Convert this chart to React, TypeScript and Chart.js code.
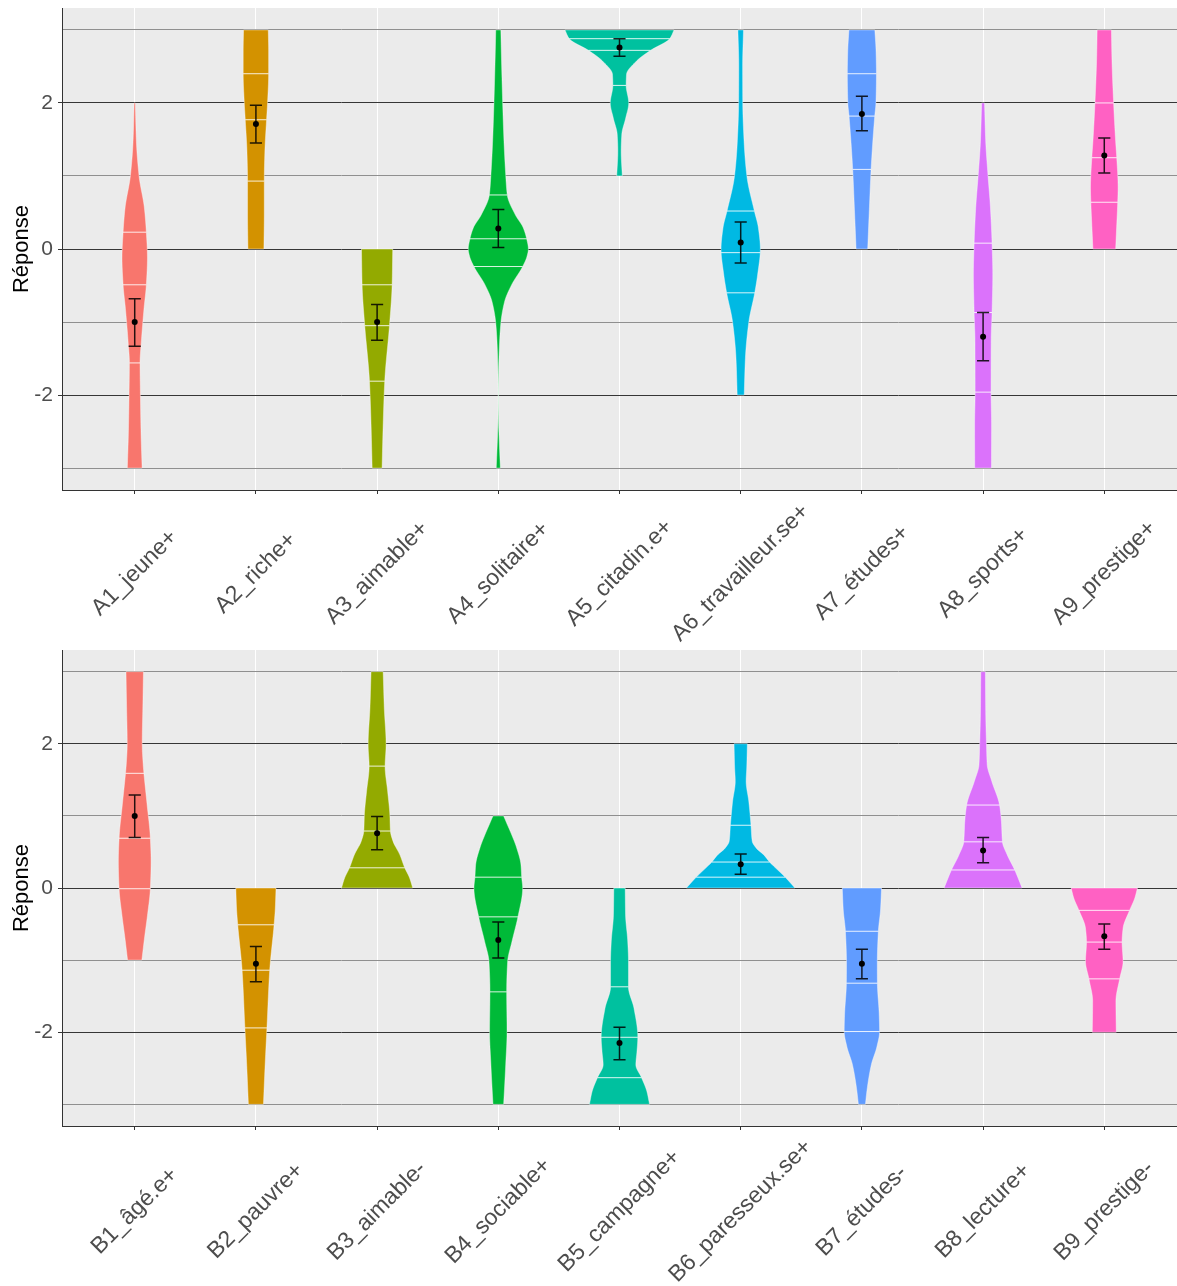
import React, { useEffect, useRef } from 'react';
import { Chart, registerables } from 'chart.js';

Chart.register(...registerables);

const FONT = "'Liberation Sans', Arial, Helvetica, sans-serif";

// ---------- categories ----------
const categoriesA = ['A1_jeune+', 'A2_riche+', 'A3_aimable+', 'A4_solitaire+', 'A5_citadin.e+', 'A6_travailleur.se+', 'A7_études+', 'A8_sports+', 'A9_prestige+'];
const categoriesB = ['B1_âgé.e+', 'B2_pauvre+', 'B3_aimable-', 'B4_sociable+', 'B5_campagne+', 'B6_paresseux.se+', 'B7_études-', 'B8_lecture+', 'B9_prestige-'];
const palette = ['#F8766D', '#D39200', '#93AA00', '#00BA38', '#00C19F', '#00B9E3', '#619CFF', '#DB72FB', '#FF61C3'];

const yTickValues = [-3, -2, -1, 0, 1, 2, 3];

// ---------- violin profiles: [response, half width (category units)] ----------
const violinA1 = [[-3, 0.061], [-2.5, 0.052], [-2, 0.047], [-1.56, 0.044], [-1.26, 0.055], [-0.81, 0.077], [-0.49, 0.096], [-0.12, 0.105], [0.23, 0.096], [0.56, 0.08], [1.0, 0.036], [1.47, 0.014], [2.0, 0.005]];
const violinA2 = [[0, 0.066], [0.47, 0.069], [0.93, 0.069], [1.34, 0.074], [1.77, 0.088], [2.0, 0.096], [2.4, 0.105], [2.71, 0.105], [3, 0.102]];
const violinA3 = [[-3, 0.041], [-2.4, 0.05], [-1.81, 0.063], [-1.05, 0.102], [-0.49, 0.124], [0, 0.129]];
const violinA4 = [[-3, 0.017], [-2.63, 0.008], [-2.36, 0.003], [-2, 0.001], [-1.68, 0.003], [-1.26, 0.011], [-1, 0.022], [-0.72, 0.052], [-0.49, 0.11], [-0.24, 0.201], [-0.1, 0.237], [0, 0.248], [0.14, 0.234], [0.29, 0.206], [0.47, 0.14], [0.74, 0.074], [1.02, 0.061], [1.47, 0.047], [2, 0.036], [2.62, 0.026], [3, 0.021]];
const violinA5 = [[1, 0.023], [1.34, 0.014], [1.57, 0.019], [1.79, 0.051], [2, 0.076], [2.24, 0.055], [2.39, 0.058], [2.57, 0.138], [2.72, 0.256], [2.88, 0.415], [3, 0.45]];
const violinA6 = [[-2, 0.029], [-1.49, 0.039], [-1, 0.067], [-0.6, 0.116], [-0.35, 0.14], [0, 0.162], [0.29, 0.146], [0.52, 0.113], [1, 0.051], [1.47, 0.028], [2, 0.017], [2.5, 0.016], [3, 0.023]];
const violinA7 = [[0, 0.048], [0.56, 0.062], [1.09, 0.076], [1.82, 0.106], [2, 0.116], [2.4, 0.12], [2.7, 0.117], [3, 0.107]];
const violinA8 = [[-3, 0.069], [-2.4, 0.07], [-1.96, 0.066], [-1.26, 0.067], [-0.87, 0.074], [-0.35, 0.08], [0.08, 0.074], [0.56, 0.061], [1, 0.041], [1.47, 0.022], [2, 0.012]];
const violinA9 = [[0, 0.094], [0.33, 0.103], [0.64, 0.111], [0.84, 0.114], [1.25, 0.103], [1.47, 0.094], [2, 0.077], [2.62, 0.063], [3, 0.059]];

const violinB1 = [[-1, 0.059], [-0.69, 0.081], [-0.37, 0.106], [-0.01, 0.129], [0.37, 0.135], [0.69, 0.129], [1.16, 0.102], [1.59, 0.076], [1.71, 0.07], [2, 0.062], [2.5, 0.067], [3, 0.072]];
const violinB2 = [[-3, 0.062], [-2.45, 0.076], [-1.94, 0.091], [-1.14, 0.114], [-0.51, 0.15], [-0.28, 0.16], [0, 0.166]];
const violinB3 = [[0, 0.294], [0.14, 0.268], [0.28, 0.228], [0.46, 0.188], [0.65, 0.131], [0.79, 0.11], [1.02, 0.105], [1.34, 0.087], [1.69, 0.066], [1.99, 0.074], [2.5, 0.059], [3, 0.05]];
const violinB4 = [[-3, 0.044], [-2.45, 0.061], [-1.99, 0.072], [-1.44, 0.069], [-1.02, 0.077], [-0.74, 0.113], [-0.4, 0.162], [0, 0.201], [0.15, 0.193], [0.32, 0.187], [0.56, 0.151], [0.74, 0.11], [0.9, 0.069], [1, 0.044]];
const violinB5 = [[-3, 0.248], [-2.82, 0.226], [-2.63, 0.182], [-2.45, 0.135], [-2.27, 0.144], [-2.07, 0.151], [-1.67, 0.12], [-1.37, 0.074], [-1.02, 0.074], [-0.74, 0.068], [-0.37, 0.05], [0, 0.047]];
const violinB6 = [[0, 0.448], [0.15, 0.367], [0.36, 0.239], [0.46, 0.19], [0.55, 0.13], [0.65, 0.095], [0.87, 0.085], [1.2, 0.067], [1.48, 0.045], [1.67, 0.05], [2, 0.055]];
const violinB7 = [[-3, 0.029], [-2.78, 0.044], [-2.45, 0.078], [-2.2, 0.124], [-1.99, 0.146], [-1.76, 0.143], [-1.32, 0.128], [-1.06, 0.127], [-0.6, 0.136], [-0.3, 0.154], [0, 0.162]];
const violinB8 = [[0, 0.322], [0.25, 0.261], [0.46, 0.199], [0.64, 0.16], [0.93, 0.151], [1.15, 0.136], [1.48, 0.072], [1.71, 0.034], [2, 0.028], [2.41, 0.022], [3, 0.019]];
const violinB9 = [[-2, 0.099], [-1.57, 0.096], [-1.26, 0.127], [-1.02, 0.155], [-0.75, 0.147], [-0.56, 0.155], [-0.31, 0.209], [-0.14, 0.252], [0, 0.274]];

const violinsA = [violinA1, violinA2, violinA3, violinA4, violinA5, violinA6, violinA7, violinA8, violinA9];
const violinsB = [violinB1, violinB2, violinB3, violinB4, violinB5, violinB6, violinB7, violinB8, violinB9];

// ---------- quartiles (75%, 50%, 25%) ----------
const quantilesA = [[0.23, -0.49, -1.56], [2.4, 1.77, 0.93], [-0.49, -1.05, -1.81], [0.74, 0.14, -0.24], [2.88, 2.72, 2.24], [0.52, -0.05, -0.6], [2.4, 1.82, 1.09], [0.08, -0.87, -1.96], [2.0, 1.25, 0.64]];
const quantilesB = [[1.59, 0.69, -0.01], [-0.51, -1.14, -1.94], [1.69, 0.79, 0.28], [0.15, -0.4, -1.44], [-1.37, -2.07, -2.63], [0.87, 0.36, 0.15], [-0.6, -1.32, -1.99], [1.15, 0.64, 0.25], [-0.31, -0.75, -1.26]];

// ---------- means and error bars ----------
const meansA = [-1.0, 1.71, -1.0, 0.28, 2.76, 0.09, 1.85, -1.2, 1.28];
const lowsA = [-1.33, 1.45, -1.25, 0.02, 2.64, -0.19, 1.62, -1.53, 1.04];
const highsA = [-0.68, 1.97, -0.76, 0.54, 2.88, 0.37, 2.09, -0.87, 1.52];

const meansB = [1.0, -1.05, 0.76, -0.72, -2.15, 0.33, -1.05, 0.52, -0.67];
const lowsB = [0.70, -1.30, 0.53, -0.97, -2.38, 0.19, -1.26, 0.35, -0.85];
const highsB = [1.29, -0.81, 0.99, -0.47, -1.93, 0.47, -0.85, 0.70, -0.50];

// monotone cubic interpolation of the half width along the response axis
function makeInterp(pts: number[][]) {
  const n = pts.length;
  const xs = pts.map((p) => p[0]);
  const ys = pts.map((p) => p[1]);
  const d: number[] = [];
  for (let i = 0; i < n - 1; i++) d.push((ys[i + 1] - ys[i]) / (xs[i + 1] - xs[i]));
  const m: number[] = new Array(n).fill(0);
  m[0] = d[0];
  m[n - 1] = d[n - 2];
  for (let i = 1; i < n - 1; i++) {
    if (d[i - 1] * d[i] <= 0) m[i] = 0;
    else {
      const h0 = xs[i] - xs[i - 1];
      const h1 = xs[i + 1] - xs[i];
      const w1 = 2 * h1 + h0;
      const w2 = h1 + 2 * h0;
      m[i] = (w1 + w2) / (w1 / d[i - 1] + w2 / d[i]);
    }
  }
  return (x: number) => {
    if (x <= xs[0]) return ys[0];
    if (x >= xs[n - 1]) return ys[n - 1];
    let i = 0;
    while (x > xs[i + 1]) i++;
    const h = xs[i + 1] - xs[i];
    const t = (x - xs[i]) / h;
    const t2 = t * t;
    const t3 = t2 * t;
    const v = (2 * t3 - 3 * t2 + 1) * ys[i] + (t3 - 2 * t2 + t) * h * m[i] + (-2 * t3 + 3 * t2) * ys[i + 1] + (t3 - t2) * h * m[i + 1];
    return Math.max(v, 0);
  };
}

type PanelProps = {
  categories: string[];
  violins: number[][][];
  quantiles: number[][];
  means: number[];
  lows: number[];
  highs: number[];
  height: number;
  padTop: number;
  axisHeight: number;
  labelOffset: number;
};

function makePlugin(p: PanelProps) {
  return {
    id: 'violinPanel',
    beforeDraw(chart: any) {
      const { ctx, chartArea } = chart;
      ctx.save();
      ctx.fillStyle = '#EBEBEB';
      ctx.fillRect(chartArea.left, chartArea.top, chartArea.right - chartArea.left, chartArea.bottom - chartArea.top);
      ctx.restore();
    },
    beforeDatasetsDraw(chart: any) {
      const { ctx } = chart;
      const xs = chart.scales.x;
      const ys = chart.scales.y;
      ctx.save();
      p.violins.forEach((prof, i) => {
        const c = i + 1;
        const w = makeInterp(prof);
        const vmin = prof[0][0];
        const vmax = prof[prof.length - 1][0];
        const pTop = ys.getPixelForValue(vmax);
        const pBot = ys.getPixelForValue(vmin);
        const N = Math.max(2, Math.ceil(Math.abs(pBot - pTop)));
        const left: number[][] = [];
        const right: number[][] = [];
        for (let k = 0; k <= N; k++) {
          const v = vmin + ((vmax - vmin) * k) / N;
          const py = ys.getPixelForValue(v);
          const hw = w(v);
          left.push([xs.getPixelForValue(c - hw), py]);
          right.push([xs.getPixelForValue(c + hw), py]);
        }
        ctx.beginPath();
        left.forEach((pt, k) => (k === 0 ? ctx.moveTo(pt[0], pt[1]) : ctx.lineTo(pt[0], pt[1])));
        for (let k = right.length - 1; k >= 0; k--) ctx.lineTo(right[k][0], right[k][1]);
        ctx.closePath();
        ctx.fillStyle = palette[i];
        ctx.fill();
        ctx.strokeStyle = 'rgba(255,255,255,0.6)';
        ctx.lineWidth = 0.7;
        ctx.stroke();

        // quartile lines
        ctx.strokeStyle = 'rgba(255,255,255,0.85)';
        ctx.lineWidth = 1;
        p.quantiles[i].forEach((q) => {
          const hw = w(q);
          const py = ys.getPixelForValue(q);
          ctx.beginPath();
          ctx.moveTo(xs.getPixelForValue(c - hw), py);
          ctx.lineTo(xs.getPixelForValue(c + hw), py);
          ctx.stroke();
        });
      });

      // error bars
      ctx.strokeStyle = 'rgba(0,0,0,0.85)';
      ctx.lineWidth = 1.5;
      p.means.forEach((_, i) => {
        const c = i + 1;
        const px = xs.getPixelForValue(c);
        const pl = ys.getPixelForValue(p.lows[i]);
        const ph = ys.getPixelForValue(p.highs[i]);
        const x0 = xs.getPixelForValue(c - 0.05);
        const x1 = xs.getPixelForValue(c + 0.05);
        ctx.beginPath();
        ctx.moveTo(px, pl);
        ctx.lineTo(px, ph);
        ctx.moveTo(x0, pl);
        ctx.lineTo(x1, pl);
        ctx.moveTo(x0, ph);
        ctx.lineTo(x1, ph);
        ctx.stroke();
      });
      ctx.restore();
    },
    afterDraw(chart: any) {
      const { ctx, chartArea } = chart;
      const xs = chart.scales.x;
      ctx.save();
      ctx.fillStyle = '#4D4D4D';
      ctx.font = `23px ${FONT}`;
      ctx.textAlign = 'center';
      ctx.textBaseline = 'middle';
      p.categories.forEach((lab, i) => {
        const px = xs.getPixelForValue(i + 1);
        ctx.save();
        ctx.translate(px, chartArea.bottom + p.labelOffset);
        ctx.rotate(-Math.PI / 4);
        ctx.fillText(lab, 0, 0);
        ctx.restore();
      });
      ctx.restore();
    },
  };
}

function Panel(props: PanelProps) {
  const ref = useRef<HTMLCanvasElement | null>(null);
  useEffect(() => {
    if (!ref.current) return;
    const chart = new Chart(ref.current, {
      type: 'scatter',
      data: {
        datasets: [
          {
            data: props.means.map((m, i) => ({ x: i + 1, y: m })),
            backgroundColor: '#000',
            borderColor: '#000',
            borderWidth: 0,
            pointRadius: 3,
            pointHoverRadius: 3,
          },
        ],
      },
      options: {
        animation: false,
        responsive: false,
        maintainAspectRatio: false,
        devicePixelRatio: 1,
        events: [],
        layout: { autoPadding: false, padding: { top: props.padTop, left: 0, right: 0, bottom: 0 } },
        plugins: { legend: { display: false }, tooltip: { enabled: false } },
        scales: {
          x: {
            type: 'linear',
            min: 0.4,
            max: 9.6,
            afterBuildTicks: (s: any) => {
              s.ticks = props.categories.map((_, i) => ({ value: i + 1 }));
            },
            afterFit: (s: any) => {
              s.height = props.axisHeight;
              s.paddingLeft = 0;
              s.paddingRight = 0;
            },
            ticks: { display: false },
            grid: { color: '#FFFFFF', lineWidth: 1, drawTicks: true, tickLength: 4, tickColor: '#333333', tickWidth: 1 },
            border: { display: true, color: '#333333', width: 1 },
          },
          y: {
            type: 'linear',
            min: -3.3,
            max: 3.3,
            afterBuildTicks: (s: any) => {
              s.ticks = yTickValues.map((v) => ({ value: v }));
            },
            afterFit: (s: any) => {
              s.width = 62;
              s.paddingTop = 0;
              s.paddingBottom = 0;
            },
            ticks: {
              autoSkip: false,
              padding: 5,
              color: '#4D4D4D',
              font: { family: FONT, size: 21 },
              callback: (v: any) => (Number(v) % 2 === 0 ? String(v) : ''),
            },
            grid: {
              color: (c: any) => (c.tick && c.tick.value % 2 === 0 ? '#363636' : '#8F8F8F'),
              lineWidth: 1,
              drawTicks: true,
              tickLength: 4,
              tickColor: (c: any) => (c.tick && c.tick.value % 2 === 0 ? '#363636' : 'rgba(0,0,0,0)'),
            },
            border: { display: true, color: '#333333', width: 1 },
            title: {
              display: true,
              text: 'Réponse',
              color: '#000000',
              font: { family: FONT, size: 22 },
              padding: { top: 9, bottom: 0 },
            },
          },
        },
      },
      plugins: [makePlugin(props)],
    } as any);
    return () => chart.destroy();
  }, []);
  return <canvas ref={ref} width={1177} height={props.height} style={{ display: 'block', width: 1177, height: props.height }} />;
}

export default function App() {
  return (
    <div style={{ position: 'absolute', left: 0, top: 0, width: 1177, height: 1286, background: '#FFFFFF' }}>
      <Panel categories={categoriesA} violins={violinsA} quantiles={quantilesA} means={meansA} lows={lowsA} highs={highsA} height={645} padTop={8} axisHeight={155} labelOffset={83} />
      <Panel categories={categoriesB} violins={violinsB} quantiles={quantilesB} means={meansB} lows={lowsB} highs={highsB} height={641} padTop={5} axisHeight={160} labelOffset={85} />
    </div>
  );
}
